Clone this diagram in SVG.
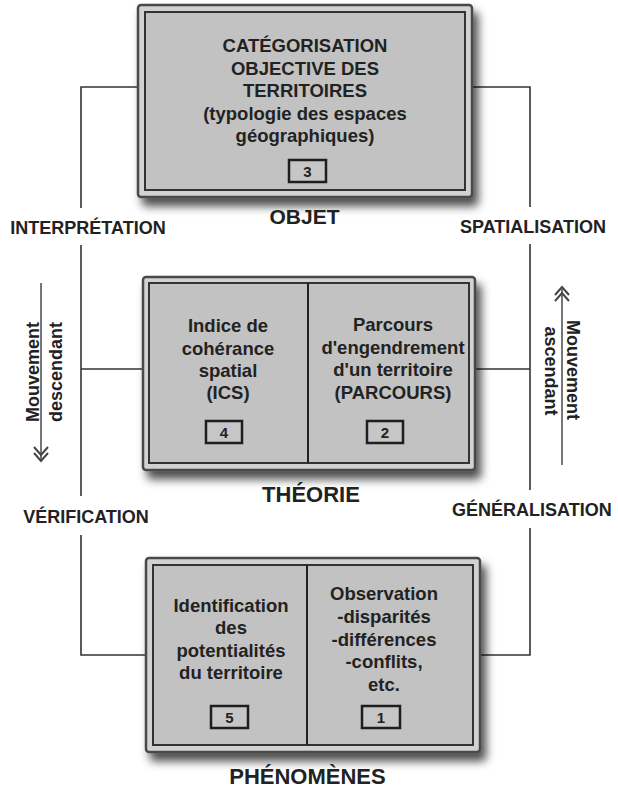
<svg xmlns="http://www.w3.org/2000/svg" width="618" height="790" viewBox="0 0 618 790">
<defs>
<filter id="sh" x="-10%" y="-10%" width="125%" height="130%">
<feDropShadow dx="5" dy="8" stdDeviation="5" flood-color="#000" flood-opacity="0.7"/>
</filter>
<style>
text{font-family:"Liberation Sans",Arial,sans-serif;font-weight:bold;fill:#222}
.bt{font-size:18.5px;text-anchor:middle}
.lb{font-size:18px}
.ttl{font-size:22px;text-anchor:middle}
.num{font-size:15px;text-anchor:middle}
.outer{fill:#d2d2d2;stroke:#4a4a4a;stroke-width:2.5}
.inner{fill:#c2c2c2;stroke:#333;stroke-width:2}
.nb{fill:#c6c6c6;stroke:#1e1e1e;stroke-width:2.5}
.div{stroke:#222;stroke-width:2}
.con{fill:none;stroke:#333;stroke-width:1.6}
.arr{fill:none;stroke:#555;stroke-width:1.6}
.chev{fill:none;stroke:#444;stroke-width:2}
</style>
</defs>
<rect width="618" height="790" fill="#fff"/>

<g id="connectors">
<polyline class="con" points="138,87 81,87 81,208"/>
<line class="con" x1="81" y1="245" x2="81" y2="496"/>
<polyline class="con" points="81,535 81,655 146,655"/>
<line class="con" x1="81" y1="369" x2="143" y2="369"/>
<polyline class="con" points="472,87 530,87 530,207"/>
<line class="con" x1="530" y1="244" x2="530" y2="490"/>
<polyline class="con" points="530,528 530,655 480,655"/>
<line class="con" x1="475" y1="369" x2="530" y2="369"/>
</g>

<g id="mouvement-descendant">
<line class="arr" x1="41" y1="283" x2="41" y2="460"/>
<polyline class="chev" points="34,447 41,455 48,447"/>
<polyline class="chev" points="34,453 41,461 48,453"/>
<text class="lb" text-anchor="middle" transform="translate(39,372) rotate(-90)">Mouvement</text>
<text class="lb" text-anchor="middle" transform="translate(62,372) rotate(-90)">descendant</text>
</g>

<g id="mouvement-ascendant">
<line class="arr" x1="562" y1="289" x2="562" y2="465"/>
<polyline class="chev" points="555,295 562,287 569,295"/>
<polyline class="chev" points="555,301 562,293 569,301"/>
<text class="lb" text-anchor="middle" transform="translate(567,370) rotate(90)">Mouvement</text>
<text class="lb" text-anchor="middle" transform="translate(545,371) rotate(90)">ascendant</text>
</g>

<g id="labels">
<text class="lb" x="88" y="234" text-anchor="middle">INTERPRÉTATION</text>
<text class="lb" x="533" y="233" text-anchor="middle">SPATIALISATION</text>
<text class="lb" x="86" y="523" text-anchor="middle">VÉRIFICATION</text>
<text class="lb" x="452" y="516">GÉNÉRALISATION</text>
</g>

<g id="objet">
<rect class="outer" x="138" y="5" width="334" height="192" rx="3" filter="url(#sh)"/>
<rect class="inner" x="145" y="12" width="320" height="178"/>
<text class="bt" x="305" y="52">CATÉGORISATION</text>
<text class="bt" x="305" y="74.5">OBJECTIVE DES</text>
<text class="bt" x="305" y="97">TERRITOIRES</text>
<text class="bt" x="305" y="119.5">(typologie des espaces</text>
<text class="bt" x="305" y="142">géographiques)</text>
<rect class="nb" x="289" y="160" width="37" height="22"/>
<text class="num" x="307.5" y="177">3</text>
<text class="ttl" x="304.5" y="224" style="font-size:21px">OBJET</text>
</g>

<g id="theorie">
<rect class="outer" x="143" y="277" width="332" height="193" rx="3" filter="url(#sh)"/>
<rect class="inner" x="149" y="283" width="320" height="180"/>
<line class="div" x1="308" y1="283" x2="308" y2="463"/>
<text class="bt" x="228" y="332">Indice de</text>
<text class="bt" x="228" y="355">cohérance</text>
<text class="bt" x="228" y="377">spatial</text>
<text class="bt" x="228" y="399">(ICS)</text>
<rect class="nb" x="206" y="421" width="36" height="22"/>
<text class="num" x="224" y="438">4</text>
<text class="bt" x="393" y="331">Parcours</text>
<text class="bt" x="393" y="354">d'engendrement</text>
<text class="bt" x="393" y="376">d'un territoire</text>
<text class="bt" x="393" y="399">(PARCOURS)</text>
<rect class="nb" x="367" y="421" width="36" height="22"/>
<text class="num" x="385" y="438">2</text>
<text class="ttl" x="311" y="502">THÉORIE</text>
</g>

<g id="phenomenes">
<rect class="outer" x="146" y="558" width="334" height="194" rx="3" filter="url(#sh)"/>
<rect class="inner" x="153" y="565" width="320" height="180"/>
<line class="div" x1="307" y1="565" x2="307" y2="745"/>
<text class="bt" x="231" y="612">Identification</text>
<text class="bt" x="231" y="634">des</text>
<text class="bt" x="231" y="657">potentialités</text>
<text class="bt" x="231" y="679">du territoire</text>
<rect class="nb" x="211" y="706" width="37" height="22"/>
<text class="num" x="229.5" y="723">5</text>
<text class="bt" x="384" y="600">Observation</text>
<text class="bt" x="384" y="623">-disparités</text>
<text class="bt" x="384" y="646">-différences</text>
<text class="bt" x="384" y="668">-conflits,</text>
<text class="bt" x="384" y="691">etc.</text>
<rect class="nb" x="362" y="706" width="38" height="22"/>
<text class="num" x="381" y="723">1</text>
<text class="ttl" x="307.5" y="784">PHÉNOMÈNES</text>
</g>
</svg>
